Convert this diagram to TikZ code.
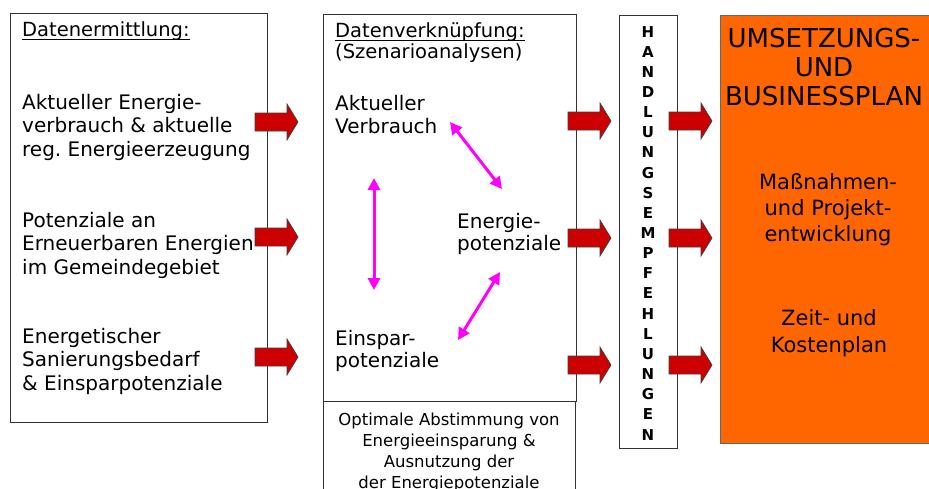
\documentclass[tikz,border=0pt]{standalone}
\usepackage{fontspec}
\setmainfont{DejaVu Sans}
\usetikzlibrary{arrows.meta}
\definecolor{arrred}{HTML}{CC0000}
\definecolor{orangebox}{HTML}{FF6600}
\definecolor{mag}{HTML}{FF00FF}
\newcommand\Lstack[1]{\vtop{\halign{##\hfil\cr#1\crcr}}}
\newcommand\Cstack[1]{\vtop{\halign{\hfil##\hfil\cr#1\crcr}}}
\frenchspacing
\begin{document}
\begin{tikzpicture}[x=1pt,y=-1pt,
  box/.style={draw=black!80, line width=0.8pt, fill=white, inner sep=0pt, outer sep=0pt, anchor=north west},
  txt/.style={inner sep=0pt, anchor=base west, font=\fontsize{20}{23.5}\selectfont},
  ttl/.style={inner sep=0pt, anchor=base west, font=\fontsize{19.5}{20}\selectfont},
  ctxt/.style={inner sep=0pt, anchor=base},
  redarr/.pic={\path[draw=black!75, line width=0.7pt, fill=arrred]
     (0,-9) -- (32,-9) -- (32,-18) -- (43,0) -- (32,18) -- (32,9) -- (0,9) -- cycle;},
  magarr/.style={draw=mag, line width=3pt, {Triangle[length=12pt,width=12pt]}-{Triangle[length=12pt,width=12pt]}}
]
\useasboundingbox (0,0) rectangle (929,488);
\clip (0,0) rectangle (929,488);

% boxes
\node[box, minimum width=257pt, minimum height=409pt] (left) at (10,13) {};
\node[box, minimum width=253pt, minimum height=387pt] (mid) at (323,14) {};
\node[box, minimum width=252pt, minimum height=100pt] (bottom) at (323,401) {};
\node[box, minimum width=58pt, minimum height=433pt] (handl) at (619,15) {};
\node[box, draw=black!60, fill=orangebox, minimum width=230pt, minimum height=428pt] (plan) at (720,15) {};

% left column texts
\node[ttl] (t1) at (22,36) {Datenermittlung:};
\draw[line width=1.1pt] ([yshift=-3.5pt]t1.base west) -- ([yshift=-3.5pt]t1.base east);
\node[txt] (l1) at (22,109) {\Lstack{Aktueller Energie-\cr verbrauch \& aktuelle\cr reg. Energieerzeugung}};
\node[txt] (l2) at (22,227) {\Lstack{Potenziale an\cr Erneuerbaren Energien\cr im Gemeindegebiet}};
\node[txt] (l3) at (22,343) {\Lstack{Energetischer\cr Sanierungsbedarf\cr \& Einsparpotenziale}};

% middle column texts
\node[ttl] (t2) at (335,37) {Datenverknüpfung:};
\draw[line width=1.1pt] ([yshift=-3.5pt]t2.base west) -- ([yshift=-3.5pt]t2.base east);
\node[ttl] (t2b) at (335,58) {(Szenarioanalysen)};
\node[txt, font=\fontsize{20}{23}\selectfont] (m1) at (335,110) {\Lstack{Aktueller\cr Verbrauch}};
\node[txt, font=\fontsize{20}{22.5}\selectfont] (m2) at (457,228) {\Lstack{Energie-\cr potenziale}};
\node[txt, font=\fontsize{20}{22.5}\selectfont] (m3) at (335,345) {\Lstack{Einspar-\cr potenziale}};

% magenta double arrows
\coordinate (m1a) at (450,122);
\coordinate (m1b) at (502,189);
\coordinate (m2a) at (374,178);
\coordinate (m2b) at (374,290);
\coordinate (m3a) at (500,272);
\coordinate (m3b) at (458,340);
\draw[magarr] (m1a) -- (m1b);
\draw[magarr] (m2a) -- (m2b);
\draw[magarr] (m3a) -- (m3b);

% bottom box text
\node[ctxt, font=\fontsize{16.5}{21}\selectfont] (bt) at (449,425)
  {\Cstack{Optimale Abstimmung von\cr Energieeinsparung \&\cr Ausnutzung der\cr der Energiepotenziale}};

% vertical text
\node[ctxt, font=\fontsize{15}{20.15}\selectfont\bfseries] (vt) at (648,37)
  {\Cstack{H\cr A\cr N\cr D\cr L\cr U\cr N\cr G\cr S\cr E\cr M\cr P\cr F\cr E\cr H\cr L\cr U\cr N\cr G\cr E\cr N}};

% orange box texts
\node[ctxt, font=\fontsize{26}{29}\selectfont] (p1) at (824,47)
  {\Cstack{UMSETZUNGS-\cr UND\cr BUSINESSPLAN}};
\node[ctxt, font=\fontsize{21}{26}\selectfont] (p2) at (828,189)
  {\Cstack{Maßnahmen-\cr und Projekt-\cr entwicklung}};
\node[ctxt, font=\fontsize{21}{27}\selectfont] (p3) at (829,325)
  {\Cstack{Zeit- und\cr Kostenplan}};

% red block arrows
\pic (a11) at (255,122) {redarr};
\pic (a12) at (255,237) {redarr};
\pic (a13) at (255,357) {redarr};
\pic (a21) at (568,121) {redarr};
\pic (a22) at (568,238) {redarr};
\pic (a23) at (568,365) {redarr};
\pic (a31) at (669,121) {redarr};
\pic (a32) at (669,238) {redarr};
\pic (a33) at (669,365) {redarr};
\end{tikzpicture}
\end{document}
